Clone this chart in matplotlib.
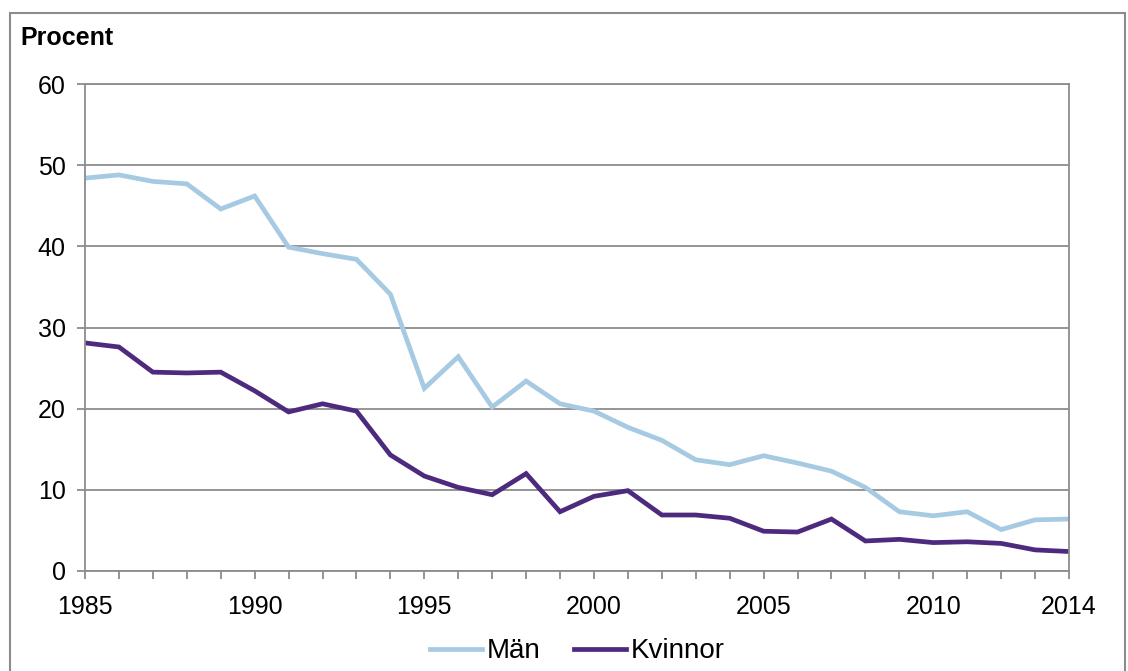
import matplotlib
matplotlib.use("Agg")
import matplotlib.pyplot as plt
from matplotlib.patches import Rectangle

plt.rcParams['font.family'] = ['Liberation Sans', 'DejaVu Sans']

years = list(range(1985, 2015))
man = [48.4, 48.8, 48.0, 47.7, 44.6, 46.2, 39.9, 39.1, 38.4, 34.1,
       22.5, 26.4, 20.2, 23.4, 20.6, 19.7, 17.7, 16.1, 13.7, 13.1,
       14.2, 13.3, 12.3, 10.3, 7.3, 6.8, 7.3, 5.1, 6.3, 6.4]
kvinnor = [28.1, 27.6, 24.5, 24.4, 24.5, 22.2, 19.6, 20.6, 19.7, 14.3,
           11.7, 10.3, 9.4, 12.0, 7.3, 9.2, 9.9, 6.9, 6.9, 6.5,
           4.9, 4.8, 6.4, 3.7, 3.9, 3.5, 3.6, 3.4, 2.6, 2.4]
xlabels = [1985, 1990, 1995, 2000, 2005, 2010, 2014]
yticks = [0, 10, 20, 30, 40, 50, 60]

GRAY = "#8c8c8c"
W, H = 1128, 671
fig = plt.figure(figsize=(W / 100, H / 100), dpi=100)
ax = fig.add_axes([85 / W, 1 - 571 / H, (1069 - 85) / W, (571 - 84) / H])

ax.plot(years, man, color="#a6cae2", lw=3.4, label="Män", solid_joinstyle="miter")
ax.plot(years, kvinnor, color="#4d2a7e", lw=3.4, label="Kvinnor", solid_joinstyle="miter")

ax.set_xlim(1985, 2014)
ax.set_ylim(0, 60)
ax.set_yticks(yticks)
ax.set_xticks(years)
ax.set_xticklabels([str(y) if y in xlabels else "" for y in years])
ax.yaxis.grid(True, color=GRAY, lw=1.3)
ax.set_axisbelow(True)
for s in ax.spines.values():
    s.set_color(GRAY)
    s.set_linewidth(1.3)
ax.tick_params(axis="both", direction="out", color=GRAY, width=1.3, labelsize=18)
ax.tick_params(axis="x", length=6, pad=11)
ax.tick_params(axis="y", length=6, pad=8)

fig.text(20 / W, 1 - 38 / H, "Procent", fontsize=18, fontweight="bold", va="center", ha="left")

ax.legend(loc="center", bbox_to_anchor=(0.5, -0.165), ncol=2, frameon=False,
          fontsize=20, handlelength=1.9, handletextpad=0.15, columnspacing=1.2)

fig.patches.append(Rectangle((10 / W, -0.05), (1125 - 10) / W, 1.05 - 13 / H,
                             transform=fig.transFigure, fill=False,
                             edgecolor=GRAY, lw=1.5))

fig.savefig("out.png", dpi=100)
